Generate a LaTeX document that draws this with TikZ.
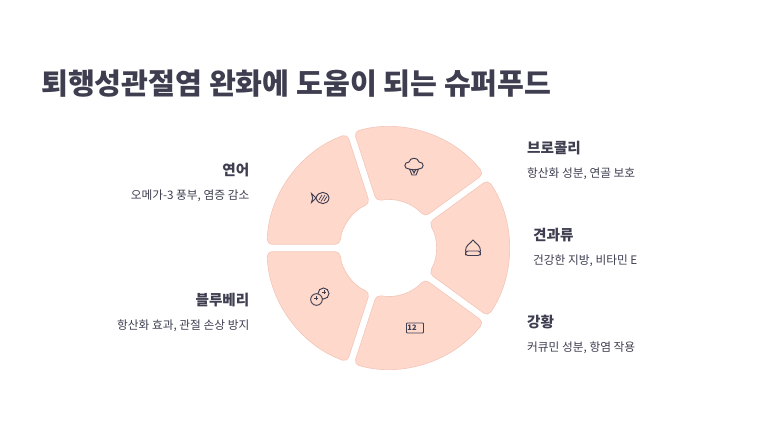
\documentclass[tikz,border=0pt]{standalone}
\usepackage{fontspec}
\setmainfont{Noto Sans CJK KR}
\usetikzlibrary{positioning}
\definecolor{peach}{HTML}{FFD8CC}
\definecolor{peachline}{HTML}{F2C6B8}
\definecolor{inkdark}{HTML}{3F3E50}

\begin{document}
\begin{tikzpicture}[
    x=1pt, y=1pt,
    sector/.style={draw=peachline, line width=0.6pt, fill=peach, rounded corners=5pt},
    heading/.style={font=\fontsize{14.6}{16}\selectfont\bfseries, text=inkdark, inner sep=0pt},
    desc/.style={font=\fontsize{11.7}{13}\selectfont, text=inkdark, inner sep=0pt},
    glyph/.style={draw=inkdark, line width=0.95pt}
]
\useasboundingbox (-388,-188) rectangle (388,248);

% wheel
\foreach \a in {-180,-108,-36,36,108} {
    \pgfmathsetmacro{\b}{\a+72}
    \path[sector] (\a+1.7:121) arc[start angle=\a+1.7, end angle=\b-1.7, radius=121]
        -- (\b-4.3:48) arc[start angle=\b-4.3, end angle=\a+4.3, radius=48] -- cycle;
}

% title
\node[anchor=west, inner sep=0pt, text=inkdark, font=\fontsize{29.2}{32}\selectfont\bfseries] (title) at (-347,164.5) {퇴행성관절염 완화에 도움이 되는 슈퍼푸드};

% labels
\node[heading, anchor=east] (salmon) at (-138.5,78) {연어};
\node[desc, anchor=east] (salmondesc) at (-138.5,52.5) {오메가-3 풍부, 염증 감소};
\node[heading, anchor=west] (broccoli) at (139,100) {브로콜리};
\node[desc, anchor=west] (broccolidesc) at (139,74.5) {항산화 성분, 연골 보호};
\node[heading, anchor=west] (nuts) at (145,13) {견과류};
\node[desc, anchor=west] (nutsdesc) at (145,-12.5) {건강한 지방, 비타민 E};
\node[heading, anchor=west] (turmeric) at (139,-74) {강황};
\node[desc, anchor=west] (turmericdesc) at (139,-99.5) {커큐민 성분, 항염 작용};
\node[heading, anchor=east] (berry) at (-138.5,-52) {블루베리};
\node[desc, anchor=east] (berrydesc) at (-138.5,-77.5) {항산화 효과, 관절 손상 방지};

% fish
\begin{scope}[shift={(-68,50)}]
    \draw[glyph] (-4,0) .. controls (-2,7.5) and (8,7.5) .. (9,0) .. controls (8,-7.5) and (-2,-7.5) .. (-4,0)
        -- (-8.5,-4.5) .. controls (-7,-1.5) and (-7,1.5) .. (-8.5,4.5) -- cycle;
    \draw[glyph, line width=0.7pt] (-1,-2) -- (2,3) (1,-3.5) -- (5,3) (4,-3) -- (7,1.5);
\end{scope}

% broccoli
\begin{scope}[shift={(26,81)}]
    \draw[glyph] (-5,-2) .. controls (-10.5,-2) and (-10.5,5) .. (-5,5) .. controls (-4,10) and (4,10) .. (5,5)
        .. controls (10.5,5) and (10.5,-2) .. (5,-2) .. controls (2,-3) and (-2,-3) .. (-5,-2);
    \draw[glyph] (-4.5,-2) -- (-2,-8) -- (2,-8) -- (4.5,-2) (-2,-2) -- (0,-6) -- (2,-2);
\end{scope}

% nut
\begin{scope}[shift={(85,0)}]
    \draw[glyph] (-7.5,-3) .. controls (-7.5,3) and (-3,4) .. (0,8) .. controls (3,4) and (7.5,3) .. (7.5,-3);
    \draw[glyph, rounded corners=2.5pt] (-7.5,-3) -- (7.5,-3) -- (7.5,-7.5) -- (-7.5,-7.5) -- cycle;
\end{scope}

% spice box
\begin{scope}[shift={(27,-80)}]
    \draw[glyph, rounded corners=0.8pt] (-8.5,-5) rectangle (8.5,5);
    \node[inner sep=0pt, text=inkdark, font=\fontsize{7.5}{8}\selectfont\bfseries] (boxtext) at (-3,0) {12};
\end{scope}

% berries
\begin{scope}[shift={(-69,-49)}]
    \draw[glyph] (4.5,3.5) circle[radius=5.5];
    \draw[glyph, fill=peach] (-2.5,-2.5) circle[radius=5.8];
    \draw[glyph] (-4.5,-1.5) -- (-0.5,-1.5) (-2.5,-3.5) -- (-2.5,0.5) (3,5) -- (7,5) (5,3) -- (5,7);
\end{scope}

\end{tikzpicture}
\end{document}
